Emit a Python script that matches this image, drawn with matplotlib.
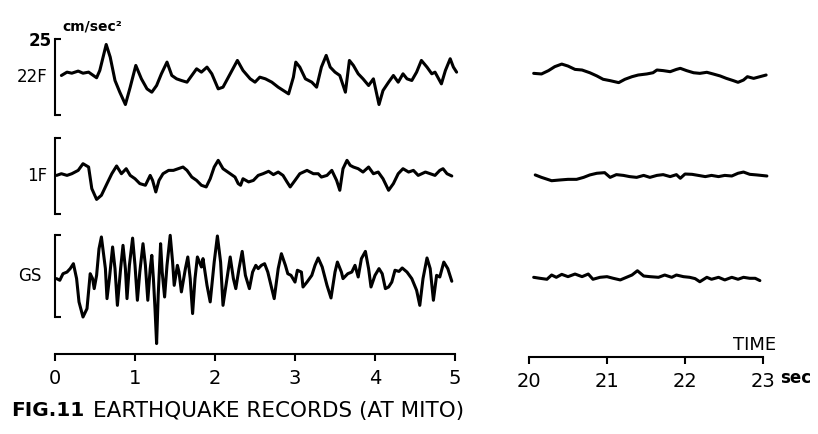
import matplotlib.pyplot as plt

# Earthquake acceleration records (cm/sec^2)
# --- first 5 seconds ---
t_22f = [0.08, 0.15, 0.21, 0.29, 0.35, 0.42, 0.52, 0.56, 0.64, 0.69,
         0.75, 0.81, 0.88, 0.94, 1.01, 1.08, 1.15, 1.21, 1.27, 1.33,
         1.40, 1.46, 1.52, 1.58, 1.65, 1.71, 1.77, 1.83, 1.90, 1.96,
         2.04, 2.10, 2.19, 2.28, 2.35, 2.44, 2.50, 2.56, 2.63, 2.71,
         2.79, 2.92, 2.98, 3.01, 3.06, 3.13, 3.21, 3.27, 3.33, 3.39,
         3.44, 3.50, 3.56, 3.63, 3.68, 3.73, 3.79, 3.85, 3.92, 3.98,
         4.05, 4.10, 4.17, 4.23, 4.29, 4.35, 4.40, 4.46, 4.52, 4.58,
         4.65, 4.71, 4.75, 4.83, 4.88, 4.94, 4.98, 5.02]
a_22f = [1, 3.2, 2.5, 3.9, 2.5, 3.2, -0.5, 4.3, 21.4, 13.1,
         -2.3, -10, -18.1, -6.7, 7.6, -1.2, -7.8, -10, -5.6, 2.1,
         9.8, 1, -1.2, -2.3, -3.4, 1, 5.4, 3.2, 6.5, 2.1,
         -7.8, -6.7, 2.1, 10.9, 4.3, -1.2, -3.4, -0.1, -1.2, -3.4,
         -6.7, -11.1, -0.1, 9.8, 6.5, -1.2, -3.4, -6.7, 6.5, 14.2,
         6.5, 3.2, 1, -10, 10.9, 7.6, 2.1, -1.2, -5.6, -1.2,
         -18.1, -8.9, -3.4, 1, -3.4, 2.1, -1.2, -2.3, 3.2, 10.9,
         6.5, 2.1, 3.2, -4.5, 4.3, 12, 6.5, 3.2]

t_1f = [0.02, 0.08, 0.15, 0.21, 0.29, 0.35, 0.42, 0.46, 0.52, 0.58,
        0.65, 0.71, 0.77, 0.83, 0.89, 0.94, 1.00, 1.06, 1.13, 1.19,
        1.22, 1.26, 1.30, 1.35, 1.42, 1.48, 1.54, 1.60, 1.65, 1.71,
        1.77, 1.83, 1.89, 1.94, 1.99, 2.04, 2.10, 2.19, 2.25, 2.29,
        2.32, 2.35, 2.42, 2.48, 2.54, 2.60, 2.67, 2.73, 2.79, 2.85,
        2.90, 2.94, 3.00, 3.06, 3.15, 3.23, 3.29, 3.33, 3.40, 3.46,
        3.52, 3.56, 3.60, 3.65, 3.69, 3.73, 3.79, 3.85, 3.92, 3.98,
        4.04, 4.10, 4.17, 4.23, 4.29, 4.35, 4.42, 4.48, 4.54, 4.63,
        4.69, 4.75, 4.81, 4.85, 4.90, 4.96]
a_1f = [0.4, 1.5, 0.4, 1.5, 3.7, 8.1, 5.9, -8.3, -15.4, -12.7,
        -5.0, 1.5, 6.6, 1.5, 4.8, 0.4, -1.8, -5.0, -6.1, 0.4,
        -2.9, -10.5, -2.9, 1.5, 3.7, 3.7, 4.8, 5.9, 3.7, -0.7,
        -2.9, -6.1, -7.2, -1.8, 5.9, 10.3, 4.8, 1.5, -0.7, -5.0,
        -6.1, -1.8, -3.9, -2.9, 0.4, 1.5, 3.1, 0.9, 2.6, 0.4,
        -3.9, -7.2, -2.9, 1.5, 3.7, 1.5, 1.5, -0.7, 0.4, 3.7,
        -2.9, -9.4, 4.8, 10.3, 7.0, 5.9, 4.8, 2.6, 5.9, 1.5,
        2.6, -1.8, -9.4, -5.0, 1.5, 4.8, 2.6, 3.7, 0.4, 2.6,
        1.5, 0.4, 3.7, 4.8, 1.5, 0]

t_gs = [0.02, 0.06, 0.10, 0.15, 0.19, 0.23, 0.27, 0.30, 0.35, 0.40,
        0.44, 0.47, 0.49, 0.52, 0.55, 0.58, 0.63, 0.65, 0.68, 0.72,
        0.75, 0.78, 0.82, 0.85, 0.88, 0.90, 0.93, 0.97, 1.00, 1.03,
        1.06, 1.10, 1.13, 1.16, 1.19, 1.21, 1.23, 1.25, 1.27, 1.29,
        1.32, 1.34, 1.37, 1.40, 1.44, 1.47, 1.49, 1.53, 1.55, 1.58,
        1.63, 1.66, 1.69, 1.72, 1.75, 1.78, 1.83, 1.85, 1.90, 1.94,
        1.99, 2.03, 2.07, 2.10, 2.15, 2.19, 2.23, 2.26, 2.30, 2.34,
        2.38, 2.43, 2.47, 2.51, 2.54, 2.58, 2.62, 2.66, 2.70, 2.74,
        2.79, 2.83, 2.88, 2.91, 2.95, 3.00, 3.03, 3.08, 3.10, 3.15,
        3.21, 3.25, 3.29, 3.34, 3.40, 3.45, 3.50, 3.53, 3.58, 3.60,
        3.66, 3.71, 3.75, 3.79, 3.83, 3.88, 3.92, 3.95, 4.00, 4.05,
        4.09, 4.13, 4.17, 4.21, 4.25, 4.30, 4.34, 4.40, 4.46, 4.52,
        4.56, 4.60, 4.65, 4.69, 4.73, 4.77, 4.81, 4.86, 4.91, 4.96]
a_gs = [-1.6, -2.6, 1.4, 2.4, 4.5, 7.5, -1.6, -15.8, -25.0, -19.9,
        1.4, -1.6, -7.7, 0.4, 16.6, 23.8, 4.5, -13.8, -1.6, 17.7,
        4.5, -17.9, 4.5, 18.7, 4.5, -13.8, 6.5, 23.1, 6.5, -14.8,
        2.4, 19.7, 6.5, -14.8, 4.5, 12.6, -1.6, -19.9, -41.2, -11.8,
        19.7, 2.4, -12.8, 6.5, 24.8, 8.5, -5.7, 6.5, 2.4, -9.7,
        4.5, 11.6, -1.6, -22.9, -1.6, 11.6, 5.5, 10.6, -5.7, -15.8,
        8.5, 24.4, 8.5, -17.9, -1.6, 11.6, -1.6, -7.7, 4.5, 15.0,
        0.4, -7.7, 2.4, 6.5, 4.5, 6.5, 7.5, 2.4, -5.7, -13.8,
        4.5, 13.6, 6.5, 1.4, 0.4, -3.7, 3.5, 2.4, -6.7, -3.7,
        0.4, 6.5, 11.0, 5.5, -5.7, -13.4, 2.4, 8.5, 2.4, -1.6,
        1.4, 2.4, 6.5, -0.6, 10.6, 15.0, 4.5, -6.7, 0.4, 4.5,
        1.4, -7.7, -6.7, -3.7, 3.5, 2.8, 4.9, 2.4, -1.6, -8.7,
        -17.9, -1.6, 11.0, 4.5, -14.8, 0.4, -0.6, 8.5, 4.5, -3.2]

# --- 20 to 23 seconds ---
t2_22f = [20.06, 20.16, 20.25, 20.33, 20.42, 20.50, 20.59, 20.68, 20.78, 20.87,
          20.95, 21.04, 21.15, 21.23, 21.32, 21.40, 21.51, 21.59, 21.64, 21.72,
          21.81, 21.89, 21.94, 22.02, 22.11, 22.19, 22.28, 22.36, 22.45, 22.53,
          22.62, 22.68, 22.75, 22.80, 22.88, 22.96, 23.04]
a2_22f = [2.4, 2.0, 4.2, 6.8, 8.5, 7.2, 5.0, 4.6, 2.8, 0.7,
          -1.5, -2.4, -3.7, -1.5, 0.2, 1.3, 2.0, 2.8, 4.6, 4.2,
          3.5, 5.0, 5.7, 4.2, 2.8, 2.4, 3.1, 2.0, 0.7, -0.9,
          -2.4, -3.5, -2.0, 0.2, -0.9, 0.2, 1.3]

t2_1f = [20.08, 20.16, 20.29, 20.40, 20.50, 20.61, 20.70, 20.78, 20.87, 20.97,
         21.04, 21.12, 21.21, 21.29, 21.38, 21.47, 21.55, 21.64, 21.72, 21.81,
         21.89, 21.94, 22.00, 22.09, 22.17, 22.26, 22.34, 22.43, 22.51, 22.60,
         22.68, 22.75, 22.83, 22.92, 23.05]
a2_1f = [0.7, -0.9, -3.1, -2.6, -2.2, -2.2, -0.9, 0.7, 1.8, 2.2,
         -0.9, 0.9, 0.4, -0.4, -0.9, 0.4, -0.9, 0.4, 0.9, -0.4,
         0.9, -1.5, 1.3, 1.1, 0.4, -0.4, 0.4, -0.4, 0.4, 0,
         1.8, 2.6, 1.1, 0.7, 0]

t2_gs = [20.06, 20.14, 20.23, 20.29, 20.35, 20.42, 20.50, 20.59, 20.68, 20.76,
         20.82, 20.91, 21.00, 21.08, 21.17, 21.25, 21.32, 21.39, 21.47, 21.55,
         21.66, 21.74, 21.83, 21.89, 21.98, 22.06, 22.13, 22.19, 22.28, 22.34,
         22.43, 22.51, 22.60, 22.68, 22.75, 22.83, 22.90, 22.96]
a2_gs = [-0.8, -1.4, -2.0, 0.6, -0.8, 1.0, -0.4, 1.2, -0.4, 1.2,
         -2.0, -0.8, -0.4, -1.4, -2.4, -0.8, 0.6, 3.2, 0, -0.4,
         -0.8, 0.6, -0.8, 0.6, -0.4, -0.8, -1.6, -3.5, -0.8, -2.0,
         -0.8, -2.4, -0.8, -2.0, -0.8, -1.4, -1.4, -2.8]

labels = ['22F', '1F', 'GS']
ticks_1 = [0, 1, 2, 3, 4, 5]
ticks_2 = [20, 21, 22, 23]

W, H = 818, 434
fig = plt.figure(figsize=(W / 100, H / 100), dpi=100)
fig.patch.set_facecolor('white')


def box(x0, y0, x1, y1):
    # pixel box (top-left origin) -> figure fraction
    return [x0 / W, 1 - y1 / H, (x1 - x0) / W, (y1 - y0) / H]


def ftext(x, y, s, **kw):
    fig.text(x / W, 1 - y / H, s, **kw)


rows = [(39, 115), (138, 214), (235, 317)]
lw = 2.2

series_1 = [(t_22f, a_22f), (t_1f, a_1f), (t_gs, a_gs)]
series_2 = [(t2_22f, a2_22f), (t2_1f, a2_1f), (t2_gs, a2_gs)]

for i, (y0, y1) in enumerate(rows):
    # left block, 0-5 sec, with the bracket scale on the left
    ax = fig.add_axes(box(55, y0, 455, y1))
    t, a = series_1[i]
    ax.plot(t, a, color='black', lw=lw, clip_on=False,
            solid_joinstyle='round', solid_capstyle='round')
    ax.set_xlim(0, 5)
    ax.set_ylim(-25, 25)
    for s in ['top', 'right', 'bottom']:
        ax.spines[s].set_visible(False)
    ax.spines['left'].set_linewidth(1.5)
    ax.set_xticks([])
    ax.set_yticks([-25, 25])
    ax.tick_params(axis='y', direction='in', length=4, width=1.5, pad=2)
    if i == 0:
        ax.set_yticklabels(['', '25'], fontsize=12, fontweight='bold')
    else:
        ax.set_yticklabels(['', ''])
    ax.patch.set_alpha(0)
    off = -0.02 if i < 2 else -0.033
    ax.text(off, 0.5, labels[i], transform=ax.transAxes, ha='right',
            va='center', fontsize=12)

    # right block, 20-23 sec
    ax2 = fig.add_axes(box(529, y0, 763, y1))
    t, a = series_2[i]
    ax2.plot(t, a, color='black', lw=lw, clip_on=False,
             solid_joinstyle='round', solid_capstyle='round')
    ax2.set_xlim(20, 23)
    ax2.set_ylim(-25, 25)
    ax2.axis('off')

# time axes
for (x0, x1, yb, ticks) in [(55, 455, 354, ticks_1), (529, 763, 357, ticks_2)]:
    axt = fig.add_axes(box(x0, yb - 1, x1, yb))
    axt.set_xlim(ticks[0], ticks[-1])
    for s in ['top', 'right', 'left']:
        axt.spines[s].set_visible(False)
    axt.spines['bottom'].set_linewidth(1.5)
    axt.set_yticks([])
    axt.set_xticks(ticks)
    axt.set_xticklabels([str(v) for v in ticks], fontsize=14)
    axt.tick_params(axis='x', direction='out', length=5, width=1.5, pad=6)
    axt.patch.set_alpha(0)

ftext(62, 27, 'cm/sec²', fontsize=10, fontweight='bold', ha='left', va='center')
ftext(755, 345, 'TIME', fontsize=13, ha='center', va='center')
ftext(780, 378, 'sec', fontsize=12, fontweight='bold', ha='left', va='center')
ftext(11, 410, 'FIG.11', fontsize=14.5, fontweight='bold', ha='left', va='center')
ftext(93, 411, 'EARTHQUAKE RECORDS (AT MITO)', fontsize=15.5, ha='left',
      va='center')

fig.savefig('out.png', dpi=100, facecolor='white')
